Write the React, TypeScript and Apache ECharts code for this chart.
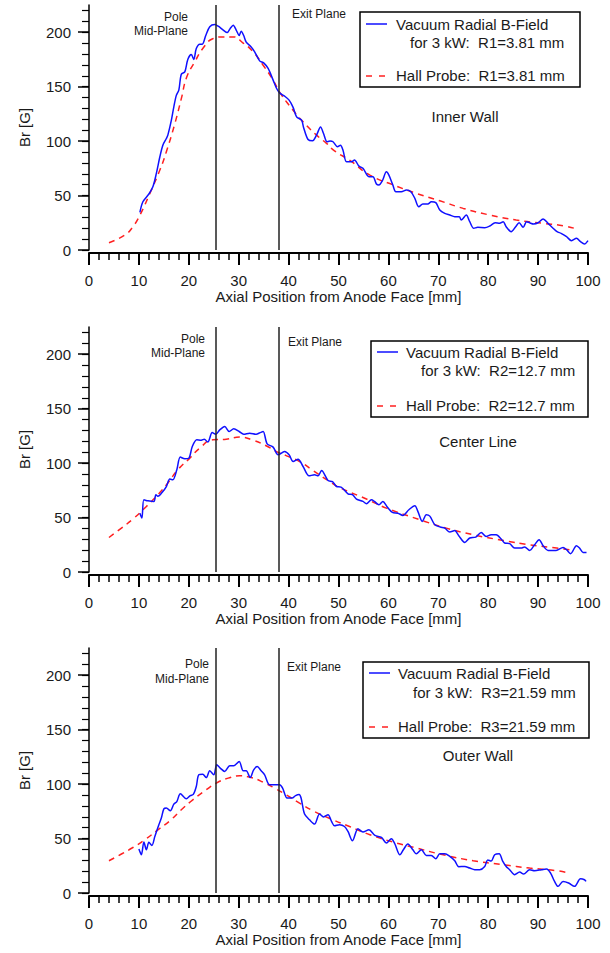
import React, { useEffect, useRef } from "react";
import * as echarts from "echarts";

// ---------- data ----------
const xTicks = [0, 10, 20, 30, 40, 50, 60, 70, 80, 90, 100];
const yMajorTicks = [0, 50, 100, 150, 200];
const yMinorTicks = [0, 10, 20, 30, 40, 50, 60, 70, 80, 90, 100, 110, 120, 130, 140, 150, 160, 170, 180, 190, 200, 210, 220];
const polePlane = 25.4;
const exitPlane = 38.1;

const panelTitles = ["Inner Wall", "Center Line", "Outer Wall"];
const radiusLabels = ["R1=3.81 mm", "R2=12.7 mm", "R3=21.59 mm"];

const innerVacuum = [
  [10.2, 34.6], [10.8, 44.3], [12.0, 51.4], [12.8, 58], [13.5, 70.3], [14.2, 85.6], [14.8, 96.3], [15.5, 102.4],
  [15.8, 105.5], [16.5, 119], [17.0, 131.5], [17.5, 142], [18.0, 146.8], [18.5, 161.5], [19.2, 163.6], [19.8, 175],
  [20.5, 179.5], [21.0, 175], [21.5, 185], [22.2, 189], [22.7, 189], [23.4, 197], [24.2, 205], [25.2, 207],
  [25.9, 205.5], [26.9, 202], [27.7, 199.7], [28.3, 203.4], [28.9, 206.4], [29.5, 202], [30.1, 197], [30.5, 201],
  [31.0, 197], [31.5, 191], [32.5, 186.5], [33.2, 182], [34.2, 173.7], [35.0, 171.8], [35.9, 166.7], [36.9, 156],
  [37.6, 148.3], [38.2, 144.3], [39.2, 141.3], [40.1, 137.6], [40.9, 131], [41.6, 122.3], [42.6, 119.3], [43.0, 112.6],
  [43.9, 101.5], [44.8, 100.3], [45.6, 105.5], [46.4, 113], [47.0, 107], [47.7, 99.4], [48.3, 100], [48.9, 99.4],
  [49.8, 94.8], [50.4, 96.3], [50.9, 91.7], [51.6, 81], [52.6, 81], [53.2, 82.6], [54.1, 77], [54.9, 75],
  [56.1, 67.3], [56.9, 67.3], [57.6, 60.6], [58.1, 59.6], [58.8, 63.6], [59.6, 71.8], [60.1, 68.8], [60.9, 59.6],
  [61.5, 53.5], [62.6, 53.5], [63.6, 55], [64.5, 53.5], [65.3, 47.4], [66.1, 39.7], [66.9, 42.2], [67.9, 42.2],
  [68.6, 44.3], [69.5, 43.5], [70.3, 36.7], [71.3, 33.6], [72.3, 32.1], [73.3, 30.6], [74.2, 30.6], [74.6, 27.5],
  [75.6, 32.1], [76.3, 26], [77.1, 19.9], [77.9, 20.8], [79.3, 20.5], [80.3, 22], [81.4, 25], [82.3, 24.5],
  [83.0, 26], [83.6, 21.4], [84.6, 16.8], [85.5, 21.4], [86.2, 25], [87.0, 20.8], [87.7, 26], [88.3, 25],
  [89.1, 23.9], [90.0, 25], [91.0, 28.4], [92.0, 24.5], [92.9, 20.5], [93.8, 16.8], [94.6, 15.3], [95.7, 12.2],
  [96.7, 8.6], [97.7, 10.7], [98.5, 7.6], [99.3, 5.5], [100, 8.6],
];
const innerHall = [
  [4.0, 6.7], [7.2, 13.8], [8.8, 21.4], [10.2, 32], [12.2, 52], [14.2, 73.4], [15.5, 90.2], [17.2, 116],
  [18.5, 139], [19.6, 159], [21.2, 172.8], [22.8, 185], [24.8, 194], [26.9, 195.7], [28.9, 195.7], [30.9, 190],
  [32.9, 182], [34.9, 169.7], [36.9, 156], [38.2, 145], [40.9, 128.4], [42.9, 117.7], [45.6, 105.5], [47.6, 97.9],
  [49.2, 91], [52.2, 82.6], [56.3, 68.8], [61.6, 58.7], [65.6, 52], [70.3, 45.2], [75.0, 38.2], [80.3, 32.1],
  [85.6, 27.5], [91.0, 24.5], [95.0, 22.3], [97.3, 19.9],
];

const centerVacuum = [
  [10.2, 54], [10.6, 49.5], [11.0, 66.3], [11.8, 65.4], [13.0, 64.8], [13.4, 71], [13.8, 69.5], [14.8, 74],
  [15.5, 78.5], [16.2, 85.3], [16.8, 84.7], [17.6, 93.9], [18.3, 105.5], [19.2, 104], [20.0, 104.5], [20.7, 115.2],
  [21.6, 121.4], [22.5, 121], [23.1, 122], [23.8, 119.3], [24.7, 128], [25.4, 126.5], [26.2, 130.5], [27.2, 133.6],
  [28.1, 129], [29.0, 131.5], [30.1, 129], [31.0, 126.5], [32.2, 127.5], [33.5, 126.5], [34.3, 128], [34.9, 129],
  [35.7, 117.7], [36.9, 114.7], [37.9, 107.6], [39.2, 110.6], [40.1, 107.6], [40.9, 101.5], [41.9, 103.6], [42.9, 96.9],
  [44.1, 88.3], [45.2, 89.3], [45.9, 88.3], [46.6, 93.2], [47.9, 84], [48.8, 83], [49.6, 78.5], [50.5, 78],
  [51.9, 71.8], [52.8, 71], [53.6, 67], [54.9, 64.8], [55.6, 62.7], [56.6, 66.3], [57.2, 64.8], [58.1, 61.7],
  [58.9, 64.8], [59.7, 60.2], [60.8, 54.7], [61.9, 54], [62.9, 52], [64.1, 57.2], [65.3, 60.8], [65.9, 55.7],
  [66.8, 46.4], [67.6, 52.6], [68.3, 51.3], [69.3, 43.4], [70.4, 41.3], [71.3, 40.3], [72.3, 36.7], [73.3, 38],
  [74.1, 33.3], [75.3, 27.2], [76.3, 31.2], [77.5, 32], [78.6, 36.3], [79.6, 32.6], [80.6, 34.2], [81.6, 34.2],
  [82.6, 30.3], [83.3, 26.6], [84.3, 26], [85.3, 22], [86.6, 22], [87.3, 23], [88.3, 19.8], [89.3, 25],
  [90.2, 29.6], [91.0, 24.2], [92.0, 19.8], [93.6, 19.8], [95.0, 22.6], [95.7, 20.5], [96.5, 16.8], [97.7, 24.1],
  [98.3, 22], [99.0, 18], [99.7, 18],
];
const centerHall = [
  [4.0, 31.7], [6.5, 40.3], [8.8, 48.6], [11.5, 60.2], [13.8, 71], [15.8, 81.7], [17.8, 93.9], [20.2, 104.6],
  [22.2, 113.8], [24.8, 121.4], [27.5, 122], [30.2, 123.9], [32.9, 121], [35.5, 115.9], [37.6, 110.6], [39.6, 106.7],
  [42.2, 101.5], [44.9, 93.2], [48.2, 83.1], [50.2, 77.6], [55.6, 67], [59.6, 58.7], [66.3, 48], [71.6, 40.3],
  [77.0, 34.2], [83.0, 29], [88.3, 25], [93.7, 22], [96.3, 20.5],
];

const outerVacuum = [
  [10.0, 40.4], [10.5, 35.1], [11.0, 46.8], [11.5, 39.7], [12.0, 46.5], [12.6, 43.7], [13.2, 52], [14.0, 62.7],
  [14.5, 68.8], [15.0, 77.3], [15.5, 78], [16.3, 75.5], [17.0, 81.6], [17.6, 84], [18.3, 91.1], [19.5, 86.5],
  [20.3, 89.5], [20.9, 90.5], [21.5, 97.8], [22.0, 108.5], [22.8, 109], [23.5, 106], [24.2, 112.2], [25.0, 108.5],
  [25.6, 117.7], [26.3, 114.7], [27.2, 111.6], [28.2, 116.8], [29.0, 116.8], [30.1, 120.7], [30.9, 112.2], [31.5, 112.2],
  [32.3, 106], [33.0, 113.1], [33.7, 116.1], [34.5, 112.2], [35.2, 108.5], [36.2, 99.4], [37.6, 99.4], [38.2, 99.4],
  [38.8, 96.3], [39.7, 87.2], [40.7, 87.2], [41.4, 89.5], [42.1, 90.5], [42.5, 87.2], [43.2, 72.5], [44.2, 67.2],
  [45.2, 63.3], [46.2, 72.5], [47.0, 69.8], [47.9, 71.9], [48.6, 65.7], [49.2, 61.7], [50.2, 62.7], [51.2, 61.1],
  [51.9, 56.5], [52.8, 48], [53.9, 59], [54.9, 56], [56.1, 58.1], [57.3, 52.9], [58.6, 51], [59.6, 45.9],
  [60.6, 49.9], [61.3, 45], [62.3, 35.1], [63.0, 39.7], [63.9, 45], [64.9, 39.7], [65.6, 36], [66.6, 39.7],
  [67.6, 34.5], [68.6, 34.5], [69.5, 31.5], [70.3, 36], [71.3, 36], [72.3, 33.6], [73.3, 29.6], [74.1, 24.1],
  [75.3, 24.4], [76.3, 22.9], [77.3, 21.4], [78.3, 21.4], [79.3, 24.4], [79.9, 30.3], [80.6, 29.3], [81.3, 35.1],
  [82.2, 36], [82.9, 29.3], [83.6, 24.4], [84.3, 21.4], [85.3, 16.8], [86.3, 19.3], [87.1, 17.4], [88.3, 21.4],
  [89.3, 20.5], [90.7, 21.4], [91.7, 22], [92.5, 18.3], [93.3, 10.6], [94.0, 6.1], [95.0, 10.6], [96.1, 9.2],
  [97.3, 6.1], [98.5, 13.1], [99.3, 12.2], [99.6, 10.6],
];
const outerHall = [
  [4.0, 29.6], [6.5, 35.8], [8.8, 41.8], [11.2, 48.9], [13.8, 58], [16.2, 66.3], [18.5, 76.4], [20.8, 85.6],
  [23.5, 94.8], [25.5, 100.9], [27.9, 105.5], [30.2, 107.6], [32.5, 106], [34.9, 101.8], [37.2, 96.3], [39.5, 90.2],
  [42.2, 82.6], [44.9, 75.5], [48.9, 67.2], [52.2, 61.1], [56.3, 53.5], [61.6, 45.9], [65.6, 41.3], [70.3, 35.8],
  [77.0, 29.6], [83.0, 26], [88.3, 22.9], [93.7, 20.5], [96.3, 18.3],
];

const vacuumSets = [innerVacuum, centerVacuum, outerVacuum];
const hallSets = [innerHall, centerHall, outerHall];

// ---------- layout ----------
const FONT = '"Liberation Sans", Arial, Helvetica, sans-serif';
const TXT = "#1a1a1a";
const GRID_LEFT = 89;
const GRID_W = 499;
const GRID_H = 245;
const panelTops = [5, 327, 648];
const poleText = [
  { x: 188, y1: 17, y2: 31 },
  { x: 205, y1: 339, y2: 353 },
  { x: 209, y1: 664, y2: 679 },
];
const exitText = [
  { x: 292, y: 14 },
  { x: 288, y: 342 },
  { x: 287, y: 667 },
];
const titlePos = [
  { x: 465, y: 116 },
  { x: 478, y: 441 },
  { x: 478, y: 755 },
];
const legendBoxes = [
  { x: 360, y: 12, w: 220, h: 75, l1: 24, l2: 42, l3: 75, lx: 366, tx: 396, t2x: 410 },
  { x: 371, y: 341, w: 217, h: 76, l1: 352, l2: 370, l3: 405, lx: 377, tx: 406, t2x: 421 },
  { x: 363, y: 662, w: 226, h: 76, l1: 673, l2: 692, l3: 726, lx: 369, tx: 398, t2x: 413 },
];

function buildOption() {
  const grid: any[] = [];
  const xAxis: any[] = [];
  const yAxis: any[] = [];
  const series: any[] = [];
  const graphic: any[] = [];

  for (let i = 0; i < 3; i++) {
    grid.push({ left: GRID_LEFT, top: panelTops[i], width: GRID_W, height: GRID_H });
    xAxis.push({
      type: "value",
      gridIndex: i,
      min: xTicks[0],
      max: xTicks[xTicks.length - 1],
      interval: 10,
      offset: 3,
      axisLine: { onZero: false, lineStyle: { color: "#000", width: 2 } },
      axisTick: { length: 12, lineStyle: { color: "#000", width: 2 } },
      minorTick: { show: true, splitNumber: 5, length: 7, lineStyle: { color: "#000", width: 1.5 } },
      splitLine: { show: false },
      minorSplitLine: { show: false },
      axisLabel: { fontSize: 15, color: TXT, margin: 20, fontFamily: FONT },
      name: "Axial Position from Anode Face [mm]",
      nameLocation: "middle",
      nameGap: 36,
      nameTextStyle: { fontSize: 15, color: TXT, fontFamily: FONT },
    });
    // minor ticks + axis line + name
    yAxis.push({
      type: "value",
      gridIndex: i,
      position: "left",
      min: 0,
      max: 225,
      interval: 10,
      axisLine: { show: true, onZero: false, lineStyle: { color: "#000", width: 1.5 } },
      axisTick: { show: true, length: 7, customValues: yMinorTicks, lineStyle: { color: "#000", width: 1.2 } },
      axisLabel: { show: false },
      splitLine: { show: false },
      name: "Br [G]",
      nameLocation: "middle",
      nameGap: 57,
      nameTextStyle: { fontSize: 15, color: TXT, fontFamily: FONT },
    });
    // major ticks + labels
    yAxis.push({
      type: "value",
      gridIndex: i,
      position: "left",
      offset: 0,
      min: 0,
      max: 225,
      interval: 50,
      axisLine: { show: false, onZero: false },
      axisTick: { show: true, length: 11, customValues: yMajorTicks, lineStyle: { color: "#000", width: 1.5 } },
      axisLabel: { fontSize: 15, color: TXT, margin: 18, fontFamily: FONT, customValues: yMajorTicks },
      splitLine: { show: false },
    });

    series.push({
      type: "line",
      xAxisIndex: i,
      yAxisIndex: 2 * i,
      data: vacuumSets[i],
      showSymbol: false,
      smooth: 0.3,
      lineStyle: { color: "#1010ff", width: 1.5 },
      markLine: {
        silent: true,
        symbol: ["none", "none"],
        label: { show: false },
        lineStyle: { color: "#222", width: 1.5, type: "solid" },
        data: [{ xAxis: polePlane }, { xAxis: exitPlane }],
      },
      z: 3,
    });
    series.push({
      type: "line",
      xAxisIndex: i,
      yAxisIndex: 2 * i,
      data: hallSets[i],
      showSymbol: false,
      smooth: true,
      lineStyle: { color: "#ff2020", width: 1.5, type: [6, 5] },
      z: 2,
    });

    const pt = poleText[i];
    graphic.push({ type: "text", x: pt.x, y: pt.y1, style: { text: "Pole", font: `12px ${FONT}`, fill: TXT, align: "right", verticalAlign: "middle" } });
    graphic.push({ type: "text", x: pt.x, y: pt.y2, style: { text: "Mid-Plane", font: `12px ${FONT}`, fill: TXT, align: "right", verticalAlign: "middle" } });
    const et = exitText[i];
    graphic.push({ type: "text", x: et.x, y: et.y, style: { text: "Exit Plane", font: `12px ${FONT}`, fill: TXT, align: "left", verticalAlign: "middle" } });
    const tp = titlePos[i];
    graphic.push({ type: "text", x: tp.x, y: tp.y, style: { text: panelTitles[i], font: `15px ${FONT}`, fill: TXT, align: "center", verticalAlign: "middle" } });

    const lb = legendBoxes[i];
    graphic.push({ type: "rect", shape: { x: lb.x, y: lb.y, width: lb.w, height: lb.h }, style: { fill: "#fff", stroke: "#000", lineWidth: 1.5 }, z: 10 });
    graphic.push({ type: "line", shape: { x1: lb.lx, y1: lb.l1, x2: lb.lx + 21, y2: lb.l1 }, style: { stroke: "#1010ff", lineWidth: 1.5 }, z: 11 });
    graphic.push({ type: "line", shape: { x1: lb.lx, y1: lb.l3 + 1, x2: lb.lx + 21, y2: lb.l3 + 1 }, style: { stroke: "#ff2020", lineWidth: 1.5, lineDash: [6, 7] }, z: 11 });
    graphic.push({ type: "text", x: lb.tx, y: lb.l1, z: 11, style: { text: "Vacuum Radial B-Field", font: `15px ${FONT}`, fill: TXT, align: "left", verticalAlign: "middle" } });
    graphic.push({ type: "text", x: lb.t2x, y: lb.l2, z: 11, style: { text: "for 3 kW:  " + radiusLabels[i], font: `15px ${FONT}`, fill: TXT, align: "left", verticalAlign: "middle" } });
    graphic.push({ type: "text", x: lb.tx, y: lb.l3, z: 11, style: { text: "Hall Probe:  " + radiusLabels[i], font: `15px ${FONT}`, fill: TXT, align: "left", verticalAlign: "middle" } });
  }

  return {
    animation: false,
    backgroundColor: "#fff",
    textStyle: { fontFamily: FONT },
    grid,
    xAxis,
    yAxis,
    series,
    graphic,
  };
}

export default function App() {
  const ref = useRef<HTMLDivElement>(null);
  useEffect(() => {
    if (!ref.current) return;
    const chart = echarts.init(ref.current, undefined, { renderer: "svg" });
    chart.setOption(buildOption() as any);
    return () => chart.dispose();
  }, []);
  return (
    <div
      ref={ref}
      style={{ position: "absolute", left: 0, top: 0, width: 610, height: 953, background: "#fff" }}
    />
  );
}
